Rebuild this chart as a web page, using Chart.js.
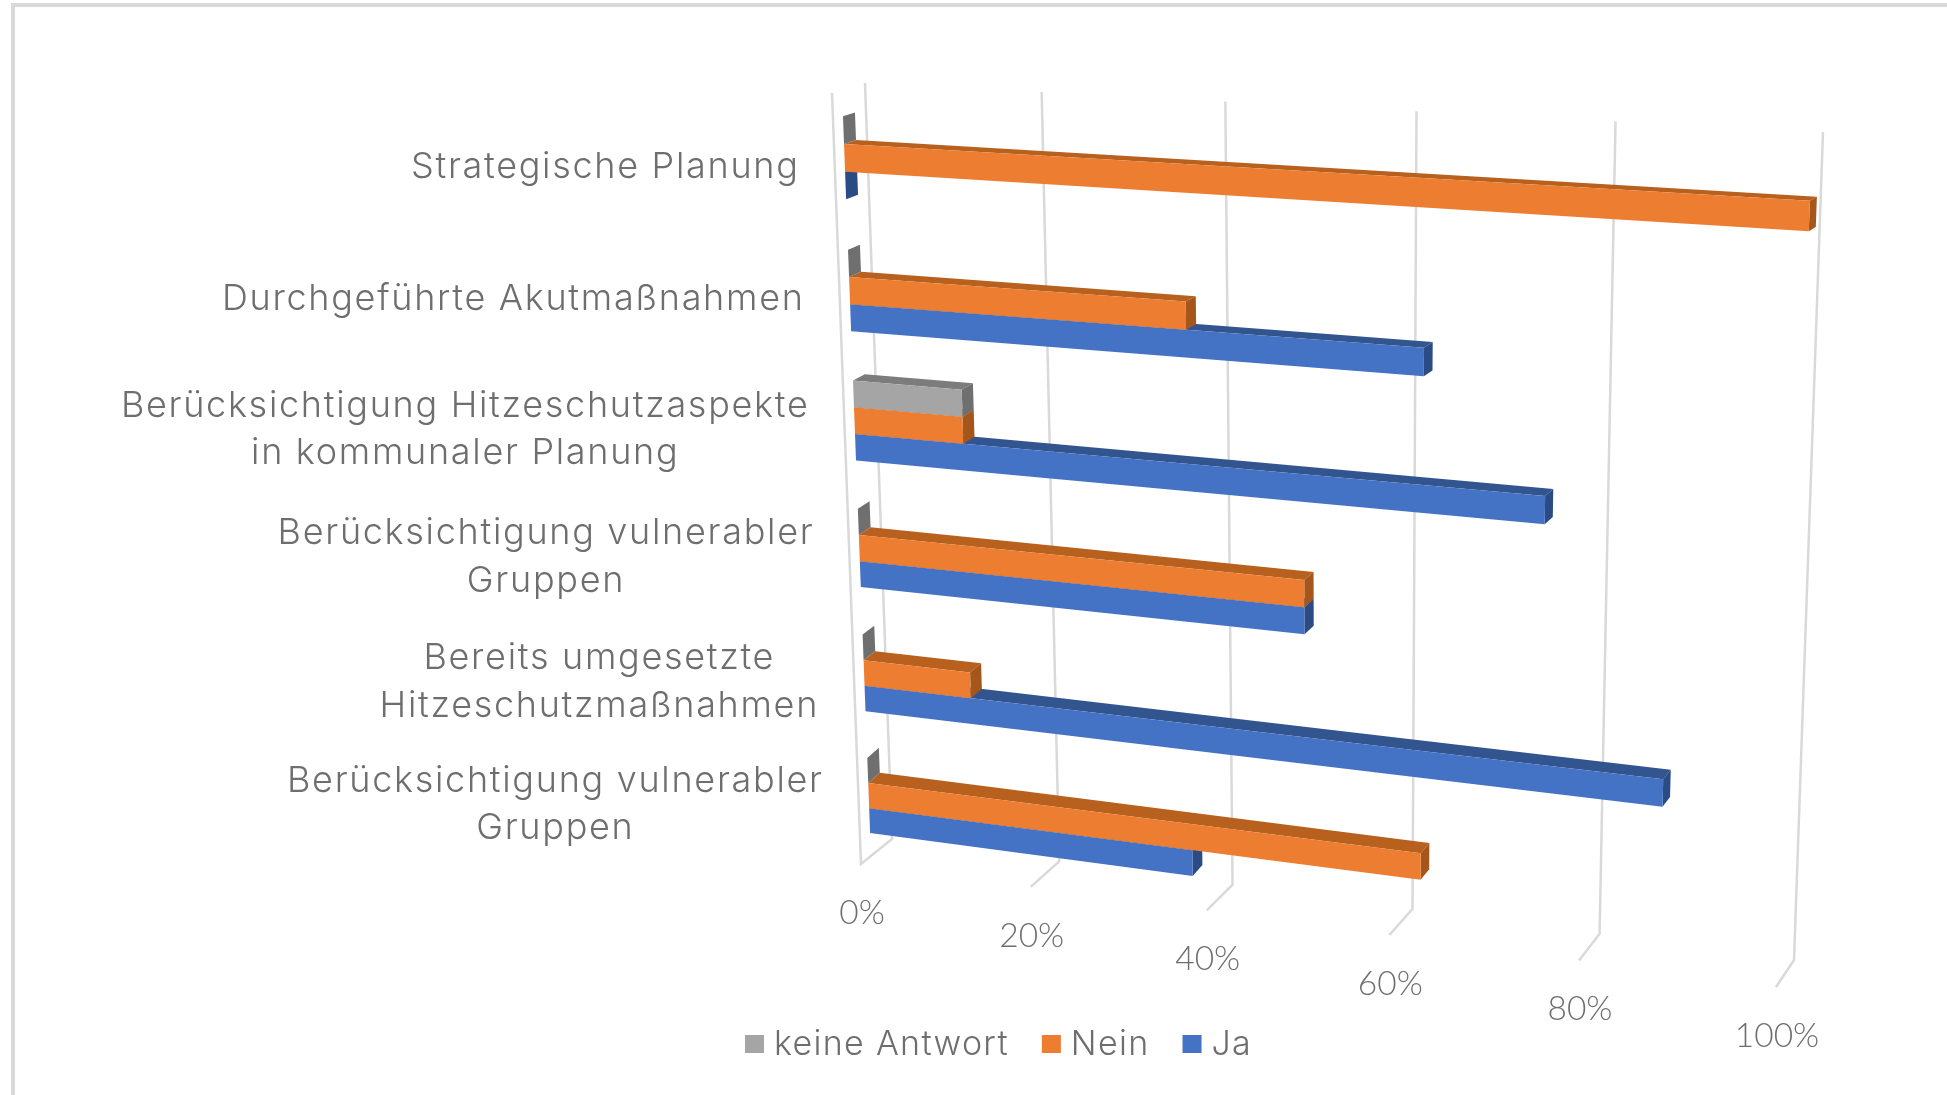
<!DOCTYPE html>
<html>
<head>
<meta charset="utf-8">
<title>Hitzeschutz</title>
<script src="https://cdn.jsdelivr.net/npm/chart.js@4/dist/chart.umd.min.js"></script>
<style>
  html, body { margin: 0; padding: 0; background: #fff; overflow: hidden; }
  #chartBox { position: absolute; left: 0; top: 0; width: 1947px; height: 1095px; }
</style>
</head>
<body>
<div id="chartBox"><canvas id="chart"></canvas></div>
<script>
const categories = [
    ['Strategische Planung'],
    ['Durchgeführte Akutmaßnahmen'],
    ['Berücksichtigung Hitzeschutzaspekte', 'in kommunaler Planung'],
    ['Berücksichtigung vulnerabler', 'Gruppen'],
    ['Bereits umgesetzte', 'Hitzeschutzmaßnahmen'],
    ['Berücksichtigung vulnerabler', 'Gruppen']
];
const keineAntwort = [0, 0, 12.5, 0, 0, 0];
const nein = [100, 37.5, 12.5, 50, 12.5, 62.5];
const ja = [0, 62.5, 75, 50, 87.5, 37.5];
const xTicks = [0, 20, 40, 60, 80, 100];

const LABEL_FONT = '300 36px Inter';
const LABEL_SPACING = '1.7px';
const LEGEND_FONT = '300 34px Inter';
const LEGEND_SPACING = '1.3px';
const TICK_FONT = '300 33.5px Lato';
const TEXT_COLOR = '#6e6e6e';
const GRID_COLOR = '#d9d9d9';

// square -> quad mapping, this is what gives the fake 3D perspective
function quadMap(p0, p1, p2, p3) {
    const dx1 = p1[0] - p2[0], dx2 = p3[0] - p2[0], sx = p0[0] - p1[0] + p2[0] - p3[0];
    const dy1 = p1[1] - p2[1], dy2 = p3[1] - p2[1], sy = p0[1] - p1[1] + p2[1] - p3[1];
    const den = dx1 * dy2 - dx2 * dy1;
    const g = (sx * dy2 - dx2 * sy) / den;
    const h = (dx1 * sy - sx * dy1) / den;
    const a = p1[0] - p0[0] + g * p1[0], b = p3[0] - p0[0] + h * p3[0], c = p0[0];
    const d = p1[1] - p0[1] + g * p1[1], e = p3[1] - p0[1] + h * p3[1], f = p0[1];
    return (u, v) => {
        const w = g * u + h * v + 1;
        return [(a * u + b * v + c) / w, (d * u + e * v + f) / w];
    };
}

// corners go top left, top right, bottom right, bottom left
const frontPlane = quadMap([842, 90.5], [1812, 142], [1782, 979], [871, 856]);
const backPlane = quadMap([854, 87], [1819, 138.5], [1789, 968], [882.5, 845]);
const wallPlane = quadMap([865, 83], [1823, 132], [1794, 960], [892, 839]);
const sideWallTop = [832, 93];

function fillPoly(ctx, pts, color) {
    ctx.fillStyle = color;
    ctx.beginPath();
    pts.forEach((p, i) => i ? ctx.lineTo(p[0], p[1]) : ctx.moveTo(p[0], p[1]));
    ctx.closePath();
    ctx.fill();
}

const perspectivePlugin = {
    id: 'perspective',
    beforeDraw(chart) {
        const ctx = chart.ctx;
        // frame around the picture, only top and left are visible
        ctx.save();
        ctx.strokeStyle = GRID_COLOR;
        ctx.lineWidth = 4;
        ctx.beginPath();
        ctx.moveTo(13, 1095);
        ctx.lineTo(13, 5);
        ctx.lineTo(1947, 5);
        ctx.stroke();
        ctx.restore();
    },
    beforeDatasetsDraw(chart) {
        const ctx = chart.ctx, area = chart.chartArea;
        const xs = chart.scales.x, ys = chart.scales.y;
        const toU = px => (px - area.left) / area.width;
        const toV = py => (py - area.top) / area.height;

        ctx.save();
        // gridlines with their little feet, and the tick labels below
        ctx.strokeStyle = GRID_COLOR;
        ctx.lineWidth = 2.5;
        ctx.font = TICK_FONT;
        ctx.fillStyle = TEXT_COLOR;
        ctx.textAlign = 'center';
        ctx.textBaseline = 'middle';
        xs.ticks.forEach(t => {
            const u = toU(xs.getPixelForValue(t.value));
            const top = wallPlane(u, 0), bottom = wallPlane(u, 1);
            const foot = [bottom[0] - 31 + 13 * u, bottom[1] + 25 + 2 * u];
            ctx.beginPath();
            ctx.moveTo(top[0], top[1]);
            ctx.lineTo(bottom[0], bottom[1]);
            ctx.lineTo(foot[0], foot[1]);
            if (t.value === 0) ctx.lineTo(sideWallTop[0], sideWallTop[1]);
            ctx.stroke();
            ctx.fillText(t.value + '%', foot[0] + 1, foot[1] + 49);
        });

        // category labels, centered lines, right edge follows the slanted 0% line
        ctx.font = LABEL_FONT;
        ctx.letterSpacing = LABEL_SPACING;
        categories.forEach((lines, i) => {
            const p = frontPlane(0, toV(ys.getPixelForValue(i)));
            const w = Math.max(...lines.map(l => ctx.measureText(l).width));
            const cx = p[0] - 45 - w / 2;
            lines.forEach((l, k) => {
                ctx.fillText(l, cx, p[1] + 9 + (k - (lines.length - 1) / 2) * 47.5);
            });
        });

        // bars, lower ones first so the upper front faces cover their tops
        for (let i = categories.length - 1; i >= 0; i--) {
            for (let d = chart.data.datasets.length - 1; d >= 0; d--) {
                const ds = chart.data.datasets[d];
                const bar = chart.getDatasetMeta(d).data[i];
                const u0 = toU(bar.base), u1 = toU(bar.x);
                const v0 = toV(bar.y - bar.height / 2), v1 = toV(bar.y + bar.height / 2);
                fillPoly(ctx, [frontPlane(u0, v0), frontPlane(u1, v0), backPlane(u1, v0), backPlane(u0, v0)], ds.topColor);
                fillPoly(ctx, [frontPlane(u1, v0), frontPlane(u1, v1), backPlane(u1, v1), backPlane(u1, v0)], ds.sideColor);
                fillPoly(ctx, [frontPlane(u0, v0), frontPlane(u1, v0), frontPlane(u1, v1), frontPlane(u0, v1)], ds.backgroundColor);
            }
        }

        // legend, drawn here because the text gap is narrower than Chart.js allows
        ctx.textAlign = 'left';
        ctx.font = LEGEND_FONT;
        ctx.letterSpacing = LEGEND_SPACING;
        let x = 745;
        chart.data.datasets.forEach(ds => {
            ctx.fillStyle = ds.backgroundColor;
            ctx.fillRect(x, 1035, 19, 18);
            ctx.fillStyle = TEXT_COLOR;
            ctx.fillText(ds.label, x + 29, 1045);
            x += 29 + ctx.measureText(ds.label).width + 33;
        });
        ctx.restore();
        return false;
    }
};

new Chart(document.getElementById('chart'), {
    type: 'bar',
    data: {
        labels: categories,
        datasets: [
            { label: 'keine Antwort', data: keineAntwort, backgroundColor: '#A5A5A5', topColor: '#7C7C7C', sideColor: '#6F6F6F' },
            { label: 'Nein', data: nein, backgroundColor: '#ED7D31', topColor: '#B8611F', sideColor: '#A5561B' },
            { label: 'Ja', data: ja, backgroundColor: '#4472C4', topColor: '#33558F', sideColor: '#2B4B85' }
        ]
    },
    options: {
        indexAxis: 'y',
        responsive: true,
        maintainAspectRatio: false,
        animation: false,
        layout: { padding: 0 },
        datasets: { bar: { categoryPercentage: 0.62, barPercentage: 1 } },
        scales: {
            x: { display: false, min: 0, max: 100, afterBuildTicks: s => { s.ticks = xTicks.map(value => ({ value })); } },
            y: { display: false }
        },
        plugins: { legend: { display: false }, tooltip: { enabled: false } }
    },
    plugins: [perspectivePlugin]
});
</script>
</body>
</html>
